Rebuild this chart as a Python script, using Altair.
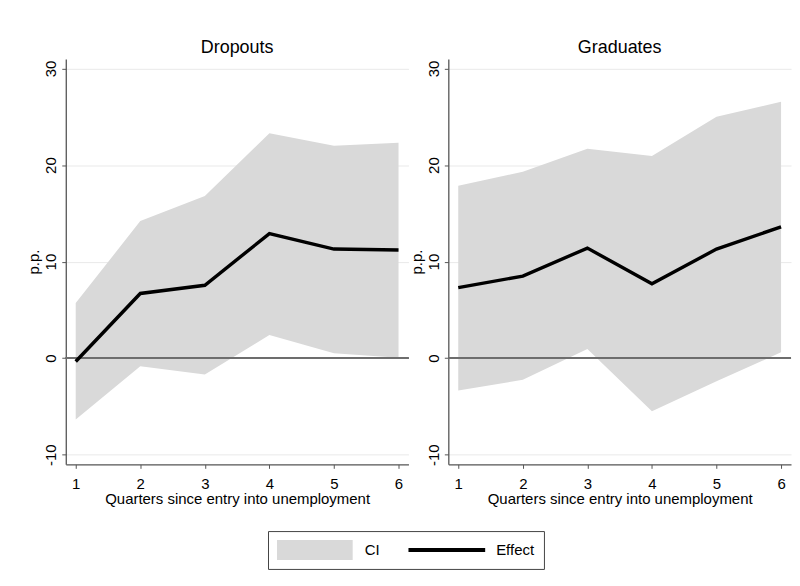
import altair as alt
import pandas as pd

quarters = [1, 2, 3, 4, 5, 6]

drop_effect = [-0.35, 6.7, 7.55, 12.9, 11.3, 11.2]
drop_lo = [-6.35, -0.85, -1.7, 2.4, 0.5, 0.05]
drop_hi = [5.7, 14.2, 16.8, 23.3, 22.0, 22.3]

grad_effect = [7.3, 8.5, 11.4, 7.7, 11.3, 13.6]
grad_lo = [-3.35, -2.25, 0.95, -5.5, -2.4, 0.6]
grad_hi = [17.85, 19.3, 21.7, 20.95, 25.0, 26.55]

panel_titles = ["Dropouts", "Graduates"]
y_ticks = [-10, 0, 10, 20, 30]
legend_labels = ["CI", "Effect"]

FONT = "Liberation Sans"
CI_COLOR = "#d9d9d9"

# legend box: grey swatch for CI plus label slot for Effect (its line symbol comes from the stroke legend)
fill_scale = alt.Scale(domain=legend_labels, range=[CI_COLOR, "transparent"])
stroke_scale = alt.Scale(domain=[legend_labels[1]], range=["#000000"])

legend_ci = alt.Legend(
    orient="none",
    legendX=203,
    legendY=474,
    direction="horizontal",
    title=None,
    symbolType="M-1,-0.263H1V0.263H-1Z",
    symbolSize=5776,
    clipHeight=20,
    symbolStrokeWidth=0,
    symbolOpacity=1,
    columnPadding=29,
    labelFont=FONT,
    labelFontSize=15,
    labelColor="#000000",
    labelOffset=12,
    padding=9,
    strokeColor="#444444",
)

legend_eff = alt.Legend(
    orient="none",
    legendX=342,
    legendY=483,
    direction="horizontal",
    title=None,
    symbolType="stroke",
    symbolSize=5929,
    clipHeight=20,
    symbolStrokeColor="#000000",
    symbolStrokeWidth=4,
    symbolOpacity=1,
    labelExpr="''",
    labelFontSize=15,
    labelOffset=0,
    padding=0,
)


def panel(title, eff, lo, hi, w):
    df = pd.DataFrame({"q": quarters, "eff": eff, "lo": lo, "hi": hi})
    base = alt.Chart(df)
    x = alt.X(
        "q:Q",
        scale=alt.Scale(domain=[0.846, 6.154], nice=False, zero=False),
        axis=alt.Axis(
            values=quarters,
            title="Quarters since entry into unemployment",
            grid=False,
            format="d",
            labelAngle=0,
        ),
    )
    yscale = alt.Scale(domain=[-11, 31], nice=False, zero=False)
    yaxis = alt.Axis(
        values=y_ticks,
        title="p.p.",
        grid=True,
        labelAngle=270,
        labelAlign="center",
        labelBaseline="bottom",
        labelExpr="replace(datum.label, '\u2212', '-')",
    )
    area = base.transform_calculate(ci_series="'CI'").mark_area(opacity=1).encode(
        x=x,
        y=alt.Y("lo:Q", scale=yscale, axis=yaxis),
        y2="hi:Q",
        fill=alt.Fill("ci_series:N", scale=fill_scale, legend=legend_ci),
    )
    zero = base.mark_rule(color="#6e6e6e", strokeWidth=1.6).encode(y=alt.datum(0))
    line = base.transform_calculate(eff_series="'Effect'").mark_line(strokeWidth=3.4).encode(
        x=x,
        y=alt.Y("eff:Q", scale=yscale),
        stroke=alt.Stroke("eff_series:N", scale=stroke_scale, legend=legend_eff),
    )
    return alt.layer(area, zero, line).properties(
        width=w,
        height=407,
        title=alt.TitleParams(title, font=FONT, fontSize=18, fontWeight="normal", color="#000000", offset=2),
    )


left = panel(panel_titles[0], drop_effect, drop_lo, drop_hi, 344)
right = panel(panel_titles[1], grad_effect, grad_lo, grad_hi, 344)

chart = (
    alt.hconcat(left, right, spacing=0)
    .resolve_scale(fill="shared", stroke="shared")
    .properties(padding={"left": 19, "top": 30, "right": 0, "bottom": 0})
    .configure_view(stroke=None)
    .configure_axis(
        labelFont=FONT,
        titleFont=FONT,
        labelFontSize=15,
        titleFontSize=15,
        titleFontWeight="normal",
        labelColor="#000000",
        titleColor="#000000",
        domainColor="#555555",
        domainWidth=1.3,
        tickColor="#555555",
        tickSize=4,
        gridColor="#e9e9e9",
        gridWidth=1,
    )
    .configure_axisY(labelPadding=3, titlePadding=2)
    .configure_axisX(labelPadding=8, titlePadding=0)
)

chart.save("out.html", embed_options={"renderer": "svg", "actions": False})
